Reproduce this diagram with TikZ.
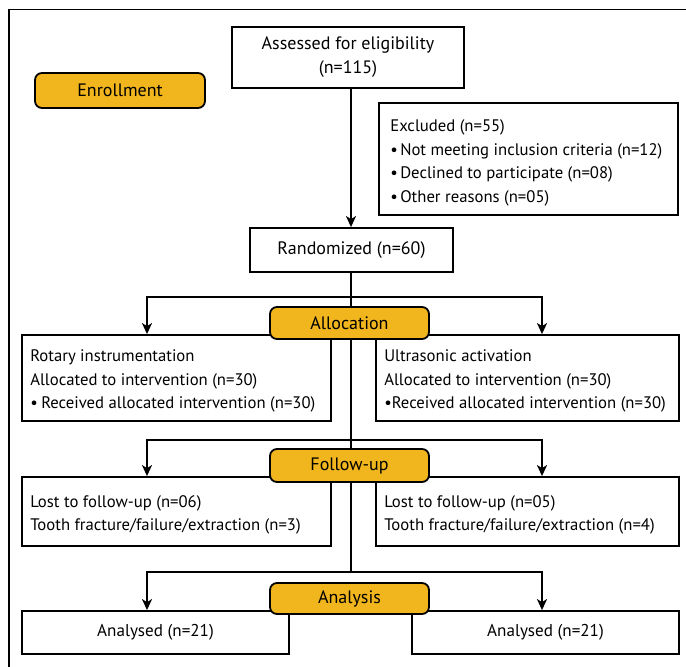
\documentclass[tikz,border=0pt]{standalone}
\usepackage{fontspec}
\setmainfont{PT Sans}
\usetikzlibrary{arrows.meta}
\definecolor{lab}{HTML}{F1B51D}
\pgfdeclarelayer{bg}
\pgfsetlayers{bg,main}
\begin{document}
\begin{tikzpicture}[x=1pt,y=-1pt,
  every node/.style={font=\fontsize{16.7}{23.7}\selectfont, inner sep=0pt},
  big/.style={font=\fontsize{18}{24}\selectfont},
  box/.style={draw, line width=1.8pt, fill=white},
  txt/.style={align=left, anchor=west},
  lab/.style={draw, line width=1.8pt, fill=lab, rounded corners=7pt, big},
  arr/.style={line width=1.8pt, -{Stealth[length=11pt,width=10pt,inset=3pt]}},
  ln/.style={line width=1.8pt}]
\newcommand\bul[1]{\makebox[#1][l]{•}}
\useasboundingbox (0,0) rectangle (686,667);
% outer frame (cropped)
\coordinate (fTL) at (9,9.5);
\coordinate (fTR) at (686,9.5);
\coordinate (fBL) at (9,667);
\draw[ln] (fTR) -- (fTL) -- (fBL);

\node[box, big, minimum width=232pt, minimum height=61pt, align=center] (assess) at (348,57.5) {Assessed for eligibility\\(n=115)};
\node[lab, minimum width=170pt, minimum height=35pt] (enroll) at (120,90.5) {Enrollment};
\node[box, minimum width=299pt, minimum height=112pt] (excl) at (528.5,159) {};
\node[txt] (exclT) at ([xshift=12pt,yshift=-4pt]excl.west)
  {Excluded (n=55)\\\bul{10pt}Not meeting inclusion criteria (n=12)\\\bul{10pt}Declined to participate (n=08)\\\bul{10pt}Other reasons (n=05)};
\node[box, big, minimum width=203pt, minimum height=44pt] (rand) at (351.5,250) {Randomized (n=60)};

\node[box, minimum width=309pt, minimum height=86pt] (rot) at (176.5,378) {};
\node[txt] (rotT) at ([xshift=9pt,yshift=-3pt]rot.west)
  {Rotary instrumentation\\Allocated to intervention (n=30)\\\bul{11pt}Received allocated intervention (n=30)};
\node[box, minimum width=303pt, minimum height=86pt] (ultra) at (527.5,378) {};
\node[txt] (ultraT) at ([xshift=9pt,yshift=-3pt]ultra.west)
  {Ultrasonic activation\\Allocated to intervention (n=30)\\\bul{7.5pt}Received allocated intervention (n=30)};

\node[box, minimum width=309pt, minimum height=69pt] (lostL) at (176.5,511.5) {};
\node[txt] (lostLT) at ([xshift=9pt,yshift=-3.5pt]lostL.west)
  {Lost to follow-up (n=06)\\Tooth fracture/failure/extraction (n=3)};
\node[box, minimum width=303pt, minimum height=69pt] (lostR) at (527.5,511.5) {};
\node[txt] (lostRT) at ([xshift=9pt,yshift=-3.5pt]lostR.west)
  {Lost to follow-up (n=05)\\Tooth fracture/failure/extraction (n=4)};

\node[box, font=\fontsize{17.1}{24}\selectfont, minimum width=267pt, minimum height=43pt] (anL) at (155.5,632.5) {Analysed (n=21)};
\node[box, font=\fontsize{17.1}{24}\selectfont, minimum width=267pt, minimum height=43pt] (anR) at (545.5,632.5) {Analysed (n=21)};

\node[lab, minimum width=159pt, minimum height=32pt] (alloc) at (349.5,323) {Allocation};
\node[lab, minimum width=159pt, minimum height=33pt] (follow) at (349.5,465.5) {Follow-up};
\node[lab, minimum width=159pt, minimum height=31pt] (analysis) at (349.5,598.5) {Analysis};

\begin{pgfonlayer}{bg}
  \coordinate (s1) at (351,297);
  \coordinate (s2) at (351,440);
  \coordinate (s3) at (351,572);
  \coordinate (aL1) at (147,297);  \coordinate (aR1) at (542,297);
  \coordinate (aL2) at (147,440);  \coordinate (aR2) at (542,440);
  \coordinate (aL3) at (147,572);  \coordinate (aR3) at (542,572);
  \draw[arr] (assess.south -| s1) -- (rand.north -| s1);
  \draw[ln] (rand.south -| s1) -- (s3);
  \draw[arr] (s1) -- (aL1) -- (aL1 |- rot.north);
  \draw[arr] (s1) -- (aR1) -- (aR1 |- ultra.north);
  \draw[arr] (s2) -- (aL2) -- (aL2 |- lostL.north);
  \draw[arr] (s2) -- (aR2) -- (aR2 |- lostR.north);
  \draw[arr] (s3) -- (aL3) -- (aL3 |- anL.north);
  \draw[arr] (s3) -- (aR3) -- (aR3 |- anR.north);
\end{pgfonlayer}
\end{tikzpicture}
\end{document}
